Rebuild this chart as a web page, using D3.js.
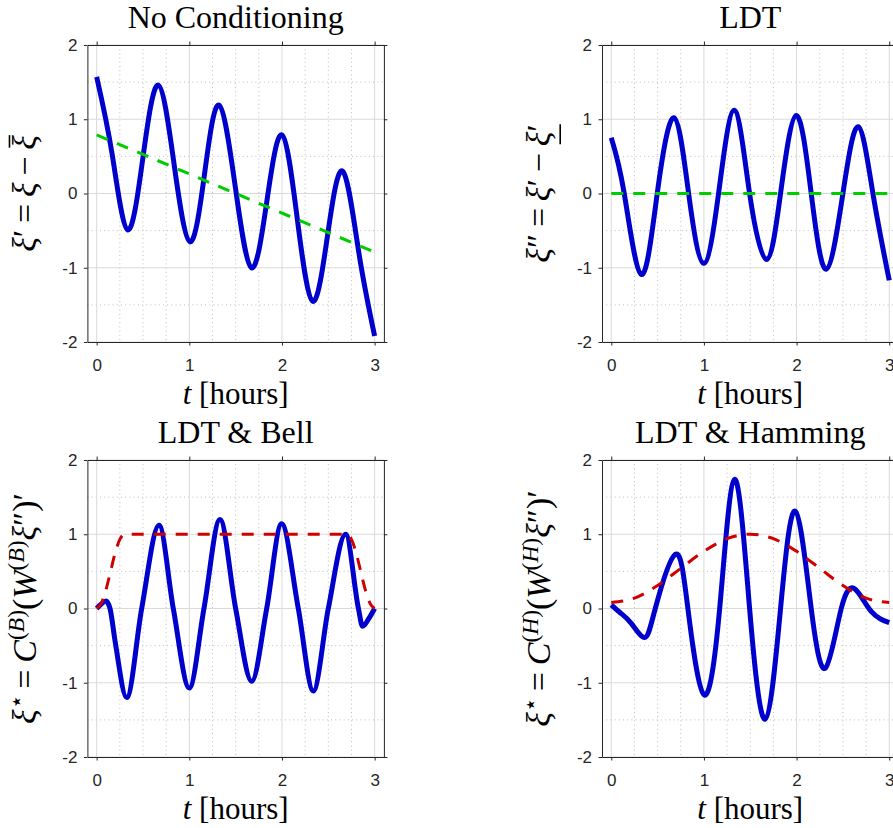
<!DOCTYPE html>
<html><head><meta charset="utf-8">
<script src="https://cdn.jsdelivr.net/npm/d3@7"></script>
<style>body{margin:0;background:#fff} svg{display:block} text{white-space:pre}</style>
</head><body>
<svg id="chart" width="893" height="828"></svg>
<script>
// ---------- data ----------
const xDomain = [-0.1, 3.1];
const yDomain = [-2, 2];
const xTicks = [0, 1, 2, 3];
const yTicks = [-2, -1, 0, 1, 2];
const xMinor = [0.25, 0.5, 0.75, 1.25, 1.5, 1.75, 2.25, 2.5, 2.75];
const yMinor = [-1.5, -0.5, 0.5, 1.5];
const titles = ["No Conditioning", "LDT", "LDT & Bell", "LDT & Hamming"];

// No conditioning (raw signal minus mean) + linear trend
const tNoCond = [0, 0.167, 0.335, 0.50, 0.665, 0.835, 1.007, 1.165, 1.32, 1.495, 1.67, 1.835, 2.0, 2.165, 2.33, 2.49, 2.655, 2.83, 3.0];
const vNoCond = [1.57, 0.53, -0.49, 0.49, 1.46, 0.40, -0.65, 0.27, 1.19, 0.10, -1.0, -0.12, 0.79, -0.34, -1.45, -0.58, 0.30, -0.80, -1.92];
const tTrend = [0, 3];
const vTrend = [0.79, -0.79];

// LDT (linear detrended) + zero mean line
const tLDT = [0, 0.14, 0.324, 0.496, 0.676, 0.835, 0.996, 1.158, 1.327, 1.493, 1.676, 1.827, 1.996, 2.158, 2.32, 2.50, 2.665, 2.824, 3.0];
const vLDT = [0.75, 0, -1.09, 0, 1.02, 0, -0.94, 0, 1.12, 0, -0.89, 0, 1.05, 0, -1.02, 0, 0.90, 0, -1.17];
const tZero = [0, 3];
const vZero = [0, 0];

// LDT & Bell taper
const tBell = [0, 0.05, 0.1, 0.144, 0.2, 0.324, 0.486, 0.673, 0.827, 1.0, 1.158, 1.331, 1.5, 1.673, 1.835, 1.996, 2.176, 2.338, 2.50, 2.687, 2.825, 2.87, 2.94, 3.0];
const vBell = [0, 0.06, 0.1, 0, -0.45, -1.20, 0, 1.12, 0, -1.07, 0, 1.20, 0, -0.98, 0, 1.14, 0, -1.11, 0, 1.0, 0, -0.24, -0.13, 0];
const tBellWin = [0, 0.05, 0.1, 0.15, 0.2, 0.25, 0.3, 2.7, 2.75, 2.8, 2.85, 2.9, 2.95, 3.0];
const vBellWin = [0, 0.07, 0.25, 0.5, 0.75, 0.93, 1, 1, 0.93, 0.75, 0.5, 0.25, 0.07, 0];

// LDT & Hamming window
const tHam = [0, 0.1, 0.216, 0.36, 0.475, 0.69, 0.827, 1.0, 1.17, 1.331, 1.493, 1.662, 1.827, 1.986, 2.158, 2.313, 2.482, 2.633, 2.806, 3.0];
const vHam = [0.05, -0.06, -0.2, -0.39, 0, 0.73, 0, -1.16, 0, 1.74, 0, -1.49, 0, 1.31, 0, -0.80, 0, 0.26, -0.04, -0.19];
const tHamWin = [0, 0.25, 0.5, 0.75, 1.0, 1.25, 1.5, 1.75, 2.0, 2.25, 2.5, 2.75, 3.0];
const vHamWin = [0.08, 0.14, 0.31, 0.54, 0.77, 0.94, 1.0, 0.94, 0.77, 0.54, 0.31, 0.14, 0.08];

// axis label texts
const yLabels = [
  [{s:"ξ",i:1},{s:"′"},{s:"\u2009=\u2009"},{s:"ξ",i:1},{s:"\u2009−\u2009"},{s:"ξ",i:1,over:1}],
  [{s:"ξ",i:1},{s:"″"},{s:"\u2009=\u2009"},{s:"ξ",i:1},{s:"′"},{s:"\u2009−\u2009"},{s:"ξ",i:1,under:1},{s:"′",under:1}],
  [{s:"ξ",i:1},{s:"⋆",sup:1},{s:"\u2009=\u2009"},{s:"C",i:1},{s:"(",sup:1},{s:"B",sup:1,i:1},{s:")",sup:1},{s:"("},{s:"W",i:1},{s:"(",sup:1},{s:"B",sup:1,i:1},{s:")",sup:1},{s:"ξ",i:1},{s:"″"},{s:")"},{s:"′"}],
  [{s:"ξ",i:1},{s:"⋆",sup:1},{s:"\u2009=\u2009"},{s:"C",i:1},{s:"(",sup:1},{s:"H",sup:1,i:1},{s:")",sup:1},{s:"("},{s:"W",i:1},{s:"(",sup:1},{s:"H",sup:1,i:1},{s:")",sup:1},{s:"ξ",i:1},{s:"″"},{s:")"},{s:"′"}]
];
const xLabelItalic = "t";
const xLabelRest = " [hours]";

// ---------- drawing ----------
const SERIF = "'Liberation Serif', 'Times New Roman', serif";
const SANS = "'Liberation Sans', Arial, Helvetica, sans-serif";
const BLUE = "#0000cc", GREEN = "#00cc00", RED = "#d00000";
const W = 296.5, H = 297;
const svg = d3.select("#chart");

const panels = [
  {x0: 87.4, y0: 45, t: tNoCond, v: vNoCond, curve: d3.curveNatural, dt: tTrend, dv: vTrend, dc: GREEN, lx: 36, len: 125, dcurve: d3.curveLinear},
  {x0: 602, y0: 45, t: tLDT, v: vLDT, curve: d3.curveNatural, dt: tZero, dv: vZero, dc: GREEN, lx: 550, len: 150, dcurve: d3.curveLinear},
  {x0: 87.4, y0: 460, t: tBell, v: vBell, curve: d3.curveMonotoneX, dt: tBellWin, dv: vBellWin, dc: RED, lx: 36, len: 246, dcurve: d3.curveMonotoneX},
  {x0: 602, y0: 460, t: tHam, v: vHam, curve: d3.curveNatural, dt: tHamWin, dv: vHamWin, dc: RED, lx: 550, len: 246, dcurve: d3.curveMonotoneX}
];

function buildLabel(grp, segs, fs) {
  const txt = grp.append("text").attr("text-anchor", "middle").attr("font-family", SERIF)
    .attr("font-size", fs).attr("fill", "#000");
  let shift = 0, idx = 0;
  const decos = [];
  segs.forEach(sg => {
    const target = sg.sup ? -0.35 * fs : 0;
    const ts = txt.append("tspan").text(sg.s);
    if (target - shift !== 0) ts.attr("dy", target - shift);
    shift = target;
    if (sg.i) ts.attr("font-style", "italic");
    if (sg.sup) ts.attr("font-size", 0.69 * fs);
    if (sg.over || sg.under) decos.push({start: idx, len: sg.s.length, type: sg.over ? "over" : "under"});
    idx += sg.s.length;
  });
  return {txt, decos};
}

panels.forEach((p, k) => {
  const x = d3.scaleLinear().domain(xDomain).range([0, W]);
  const y = d3.scaleLinear().domain(yDomain).range([H, 0]);
  const g = svg.append("g").attr("transform", `translate(${p.x0},${p.y0})`);

  // minor grid
  g.append("g").selectAll("line").data(xMinor).join("line")
    .attr("x1", d => x(d)).attr("x2", d => x(d)).attr("y1", 0).attr("y2", H)
    .attr("stroke", "#bdbdbd").attr("stroke-width", 1).attr("stroke-dasharray", "1,3.2");
  g.append("g").selectAll("line").data(yMinor).join("line")
    .attr("y1", d => y(d)).attr("y2", d => y(d)).attr("x1", 0).attr("x2", W)
    .attr("stroke", "#bdbdbd").attr("stroke-width", 1).attr("stroke-dasharray", "1,3.2");
  // major grid
  g.append("g").selectAll("line").data(xTicks).join("line")
    .attr("x1", d => x(d)).attr("x2", d => x(d)).attr("y1", 0).attr("y2", H)
    .attr("stroke", "#dadada").attr("stroke-width", 1);
  g.append("g").selectAll("line").data(yTicks).join("line")
    .attr("y1", d => y(d)).attr("y2", d => y(d)).attr("x1", 0).attr("x2", W)
    .attr("stroke", "#dadada").attr("stroke-width", 1);

  // clip
  const cid = "clip" + k;
  g.append("clipPath").attr("id", cid).append("rect").attr("width", W).attr("height", H);
  const plot = g.append("g").attr("clip-path", `url(#${cid})`);

  const sig = p.t.map((t, i) => [t, p.v[i]]);
  const line = d3.line().x(d => x(d[0])).y(d => y(d[1])).curve(p.curve);
  plot.append("path").attr("d", line(sig)).attr("fill", "none")
    .attr("stroke", BLUE).attr("stroke-width", 5).attr("stroke-linejoin", "round");

  const dl = p.dt.map((t, i) => [t, p.dv[i]]);
  const dline = d3.line().x(d => x(d[0])).y(d => y(d[1])).curve(p.dcurve);
  plot.append("path").attr("d", dline(dl)).attr("fill", "none")
    .attr("stroke", p.dc).attr("stroke-width", 3).attr("stroke-dasharray", "12,10");

  // axes
  const styleAxis = sel => {
    sel.select(".domain").attr("stroke", "#262626").attr("stroke-width", 1);
    sel.selectAll(".tick line").attr("stroke", "#262626").attr("stroke-width", 1);
    sel.selectAll(".tick text").attr("fill", "#262626").attr("font-family", SANS).attr("font-size", 17);
  };
  g.append("g").attr("transform", `translate(0,${H})`)
    .call(d3.axisBottom(x).tickValues(xTicks).tickSize(3.5).tickSizeOuter(0).tickPadding(13).tickFormat(d3.format("d")))
    .call(styleAxis);
  g.append("g")
    .call(d3.axisTop(x).tickValues(xTicks).tickSize(3.5).tickSizeOuter(0).tickFormat(""))
    .call(styleAxis);
  g.append("g")
    .call(d3.axisLeft(y).tickValues(yTicks).tickSize(3.5).tickSizeOuter(0).tickPadding(6.5).tickFormat(d => d < 0 ? "-" + Math.abs(d) : String(d)))
    .call(styleAxis);
  g.append("g").attr("transform", `translate(${W},0)`)
    .call(d3.axisRight(y).tickValues(yTicks).tickSize(3.5).tickSizeOuter(0).tickFormat(""))
    .call(styleAxis);

  // title
  svg.append("text").attr("x", p.x0 + W / 2).attr("y", p.y0 - 17)
    .attr("text-anchor", "middle").attr("font-family", SERIF).attr("font-size", 32).attr("fill", "#000")
    .text(titles[k]);

  // x label
  const xl = svg.append("text").attr("x", p.x0 + W / 2).attr("y", p.y0 + H + 62)
    .attr("text-anchor", "middle").attr("font-family", SERIF).attr("font-size", 31).attr("fill", "#000");
  xl.append("tspan").attr("font-style", "italic").text(xLabelItalic);
  xl.append("tspan").text(xLabelRest);

  // y label (font size fitted to the reference label length)
  const grp = svg.append("g").attr("transform", `translate(${p.lx},${p.y0 + H / 2}) rotate(-90)`);
  let built = buildLabel(grp, yLabels[k], 32);
  const L = built.txt.node().getComputedTextLength();
  let fs = Math.max(24, Math.min(34, 32 * p.len / L));
  built.txt.remove();
  built = buildLabel(grp, yLabels[k], fs);
  const {txt, decos} = built;
  const merged = [];
  decos.forEach(d => {
    const last = merged[merged.length - 1];
    if (last && last.type === d.type && last.start + last.len === d.start) last.len += d.len;
    else merged.push({...d});
  });
  merged.forEach(d => {
    let x1 = Infinity, x2 = -Infinity;
    for (let c = d.start; c < d.start + d.len; c++) {
      const e = txt.node().getExtentOfChar(c);
      x1 = Math.min(x1, e.x); x2 = Math.max(x2, e.x + e.width);
    }
    const yy = d.type === "over" ? -0.78 * fs : 0.3 * fs;
    grp.append("line").attr("x1", x1 + 2).attr("x2", x2).attr("y1", yy).attr("y2", yy)
      .attr("stroke", "#000").attr("stroke-width", 1.6);
  });
});
</script>
</body></html>
